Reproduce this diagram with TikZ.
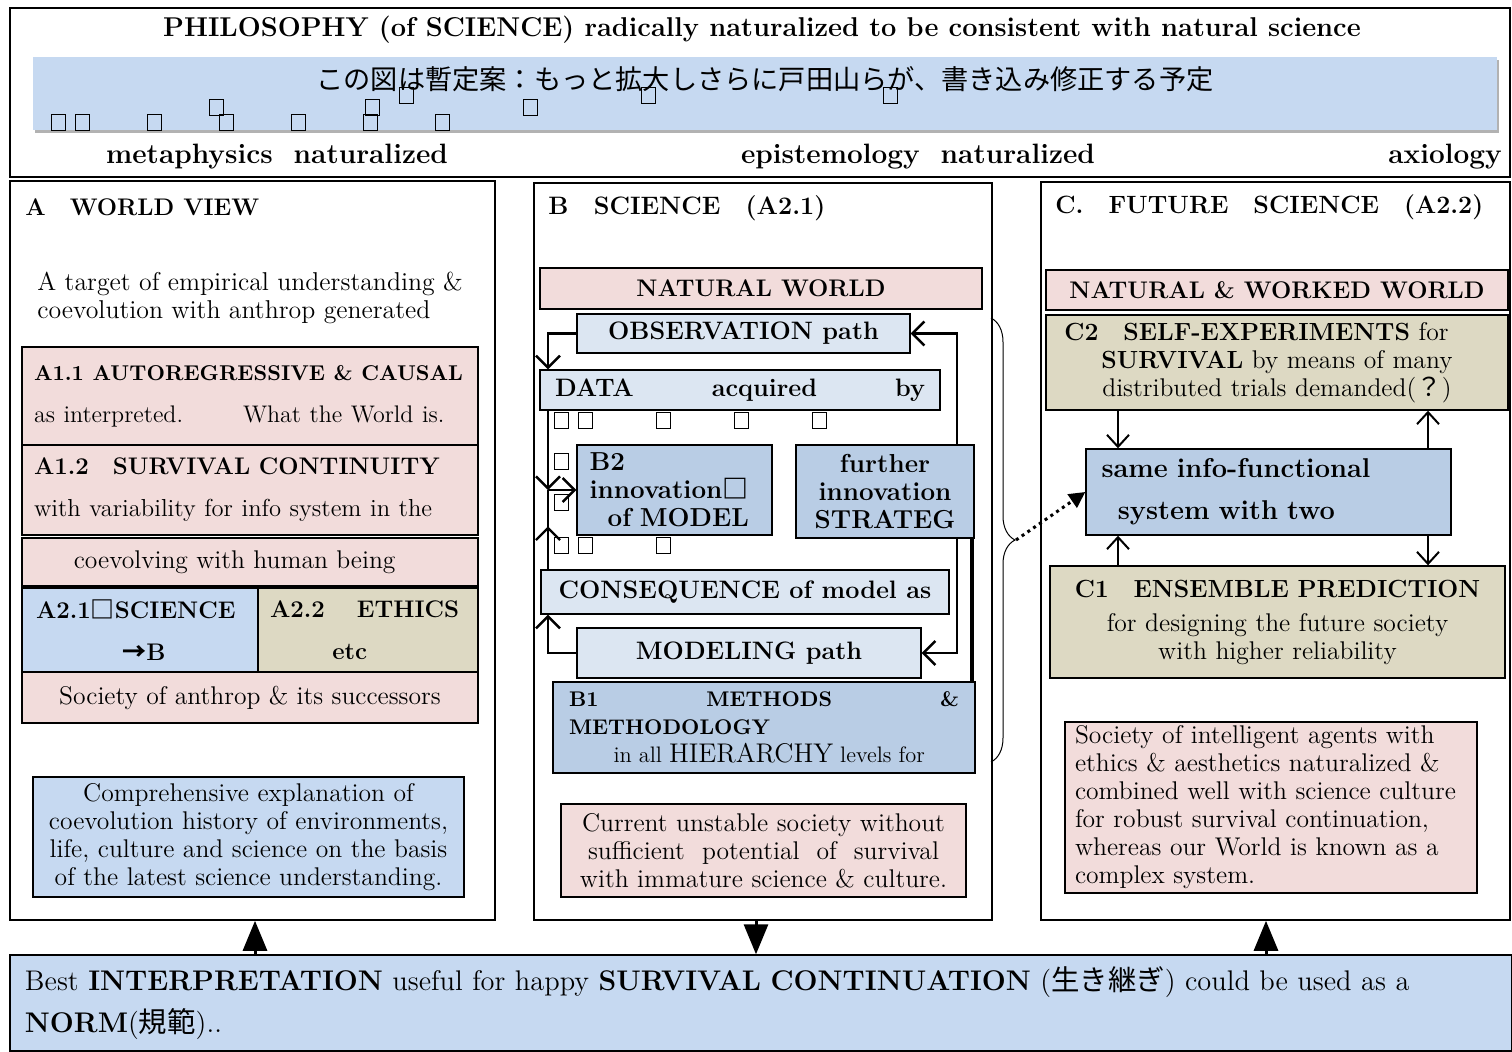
\documentclass[tikz,border=0pt]{standalone}
\usepackage{fontspec}
\newfontfamily\jp{Noto Sans CJK JP}
\usepackage{tikz}
\usetikzlibrary{arrows.meta,calc,shadows,decorations.pathreplacing}
\definecolor{worldpink}{HTML}{F2DCDB}
\definecolor{bandblue}{HTML}{C6D9F1}
\definecolor{pathblue}{HTML}{DCE6F2}
\definecolor{modelblue}{HTML}{B9CDE5}
\definecolor{ethictan}{HTML}{DDD9C3}
\tikzset{
	frame/.style={draw, line width=0.8pt, inner sep=0pt},
	box/.style={draw, line width=0.7pt, inner sep=2pt, font=\fontsize{12.8}{14}\selectfont},
	pinkbox/.style={box, fill=worldpink},
	bluebox/.style={box, fill=bandblue},
	tanbox/.style={box, fill=ethictan},
	worldhead/.style={pinkbox, font=\bfseries\fontsize{12}{14}\selectfont},
	pathbox/.style={box, fill=pathblue, font=\bfseries\fontsize{12.6}{14}\selectfont},
	modelbox/.style={box, fill=modelblue, font=\bfseries\fontsize{13}{14}\selectfont},
	head/.style={font=\bfseries\fontsize{12}{14}\selectfont, inner sep=0pt, anchor=west},
	flow/.style={line width=1.3pt, -{Straight Barb[length=6pt, width=12pt, line width=1.2pt]}},
	cflow/.style={line width=1pt, -{Straight Barb[length=6pt, width=11pt, line width=1pt]}},
	bigarrow/.style={line width=1.5pt, -{Triangle[length=15pt, width=12pt]}},
	glyphbox/.style={draw, line width=0.5pt},
}
\begin{document}
\begin{tikzpicture}[x=0.5pt, y=-0.5pt]
\useasboundingbox (0,0) rectangle (1512,1051);

% philosophy band
\node[frame, minimum width=750pt, minimum height=84.5pt] (phil) at (760,92.5) {};
\node[head, anchor=center, font=\bfseries\fontsize{13.6}{14}\selectfont] (title) at (762,30)
  {PHILOSOPHY (of SCIENCE) radically naturalized to be consistent with natural science};
\node[fill=bandblue, minimum width=732pt, minimum height=36.5pt,
  drop shadow={shadow xshift=1pt, shadow yshift=-1.5pt, fill=black!60}] (band) at (765,93.5) {};
\node[font=\jp\fontsize{13.6}{14}\selectfont, inner sep=0pt] (note) at (765,79)
  {この図は暫定案：もっと拡大しさらに戸田山らが、書き込み修正する予定};
\foreach \x/\y in {58/122, 82/122, 154/122, 216/107, 226/122, 298/122, 372/107, 370/122,
  406/95, 442/122, 530/107, 648/95, 890/95}
  \draw[glyphbox] (\x-7,\y-8) rectangle (\x+7,\y+8);
\node[head, anchor=center, font=\bfseries\fontsize{14}{14}\selectfont] (meta) at (277,157) {metaphysics\ \ naturalized};
\node[head, anchor=center, font=\bfseries\fontsize{14}{14}\selectfont] (epi) at (918,157) {epistemology\ \ naturalized};
\node[head, anchor=center, font=\bfseries\fontsize{14}{14}\selectfont] (axio) at (1445,157) {axiology};

% A world view
\node[frame, minimum width=242.5pt, minimum height=369.5pt] (colA) at (252.5,550.5) {};
\node[head] (titleA) at (25,207) {A\quad WORLD VIEW};
\node[anchor=west, align=left, inner sep=0pt, font=\fontsize{12.9}{14}\selectfont] (target) at (37,298)
  {A target of empirical understanding \&\\coevolution with anthrop generated};
\node[pinkbox, minimum width=228pt, minimum height=49pt, text width=216pt, align=left] (a11) at (250,396)
  {{\bfseries\fontsize{10.7}{14}\selectfont A1.1 AUTOREGRESSIVE \& CAUSAL}\\[7pt]\fontsize{12}{14}\selectfont as interpreted.\hspace{2.5em}What the World is.};
\node[pinkbox, minimum width=228pt, minimum height=45pt, text width=216pt, align=left] (a12) at (250,490)
  {{\bfseries\fontsize{12}{14}\selectfont A1.2\quad SURVIVAL CONTINUITY}\\[7pt]\fontsize{12.3}{14}\selectfont with variability for info system in the};
\node[pinkbox, minimum width=228pt, minimum height=24pt] (coev) at (250,562) {\hspace*{-1.2em}coevolving with human being};
\node[bluebox, minimum width=118pt, minimum height=42pt, text width=104pt, align=left,
  font=\bfseries\fontsize{12}{14}\selectfont] (a21) at (140,630)
  {A2.1{\jp □}SCIENCE\\[7pt]\hspace*{3.6em}{\jp →}B};
\node[tanbox, minimum width=110pt, minimum height=42pt, text width=98pt, align=left,
  font=\bfseries\fontsize{12}{14}\selectfont] (a22) at (368,630)
  {A2.2\quad\ ETHICS\\[7pt]\hspace*{2.6em}etc};
\node[pinkbox, minimum width=228pt, minimum height=25.5pt] (soc) at (250,697.5) {Society of anthrop \& its successors};
\node[bluebox, minimum width=215.5pt, minimum height=60pt, text width=208pt, align=center] (comp) at (248.5,837)
  {Comprehensive explanation of\\coevolution history of environments,\\life, culture and science on the basis\\of the latest science understanding.};

% B science
\node[frame, minimum width=229pt, minimum height=368.5pt] (colB) at (763,551.5) {};
\node[head, font=\bfseries\fontsize{12.6}{14}\selectfont] (titleB) at (548,208) {B\quad SCIENCE\quad (A2.1)};
\node[worldhead, minimum width=221pt, minimum height=20.5pt] (nat) at (761,288.5) {NATURAL WORLD};
\node[pathbox, minimum width=166.5pt, minimum height=19.5pt] (obs) at (743.5,333.5) {OBSERVATION path};
\node[pathbox, minimum width=200pt, minimum height=20pt, text width=185pt, align=left] (data) at (740,390)
  {DATA\hfill acquired\hfill by};
\node[modelbox, minimum width=97.5pt, minimum height=45pt, text width=85pt, align=left] (b2) at (674.5,490)
  {B2\\innovation{\jp □}\\\hspace*{0.7em}of MODEL};
\node[modelbox, minimum width=89pt, minimum height=46.5pt, align=center] (further) at (885,491.5)
  {further\\innovation\\STRATEG};
\node[pathbox, minimum width=204pt, minimum height=22pt] (cons) at (745,592) {CONSEQUENCE of model as};
\node[pathbox, minimum width=172pt, minimum height=25pt] (model) at (749,653) {MODELING path};
\node[modelbox, minimum width=211pt, minimum height=45.5pt, text width=195pt, align=left,
  font=\bfseries\fontsize{10.6}{14}\selectfont] (b1) at (764,727.5)
  {B1\hfill METHODS\hfill\&\\METHODOLOGY\\\hspace*{2.1em}\normalfont\fontsize{11.2}{14}\selectfont in all {\fontsize{13.5}{14}\selectfont HIERARCHY} levels for};
\node[pinkbox, minimum width=202.5pt, minimum height=46.5pt, text width=196pt, align=center] (cur) at (763.5,850.5)
  {Current unstable society without\\sufficient\ \ potential\ \ of\ \ survival\\with immature science \& culture.};
\foreach \x/\y in {561/420, 585/420, 663/420, 741/420, 819/420, 561/461, 561/502, 561/545, 585/545, 663/545}
  \draw[glyphbox] (\x-7,\y-8) rectangle (\x+7,\y+8);

\coordinate (lx) at (548,0);
\coordinate (rx) at (957,0);
\coordinate (tx) at (972,0);
\draw[flow] (obs.west) -| (data.north -| lx);
\draw[flow] (further.north -| rx) |- (obs.east);
\draw[flow] (further.south -| rx) |- (model.east);
\draw[line width=2pt] (further.south -| tx) -- (b1.north -| tx);
\draw[flow] (model.west) -| (cons.south -| lx);
\draw[flow] (data.south -| lx) -- (b2.west -| lx);
\draw[line width=1.3pt] (cons.north -| lx) -- (b2.west -| lx);
\draw[flow] (cons.north -| lx) -- ++(0,-43);
\draw[flow] (b2.west -| lx) -- (b2.west);

\draw[decorate, decoration={brace, amplitude=12pt}, line width=0.5pt] (991,318) -- (991,762);
\coordinate (bracetip) at (1016,540);

% C future science
\node[frame, minimum width=234.5pt, minimum height=369pt] (colC) at (1275.5,551) {};
\node[head, font=\bfseries\fontsize{12.5}{14}\selectfont] (titleC) at (1055,207) {C.\quad FUTURE\quad SCIENCE\quad (A2.2)};
\node[worldhead, minimum width=231pt, minimum height=20pt] (nww) at (1277,290) {NATURAL \& WORKED WORLD};
\node[tanbox, minimum width=231pt, minimum height=47.5pt, text width=220pt, align=center] (c2) at (1277,362.5)
  {\hspace*{-1.6em}{\bfseries\fontsize{12.4}{14}\selectfont C2\quad SELF-EXPERIMENTS} for\\{\bfseries\fontsize{12.4}{14}\selectfont SURVIVAL} by means of many\\distributed trials demanded({\jp ？})};
\node[modelbox, minimum width=182.5pt, minimum height=43pt, text width=167pt, align=left,
  font=\bfseries\fontsize{13.6}{14}\selectfont] (same) at (1268.5,492)
  {same info-functional\\[7pt]\hspace*{0.6em}system with two};
\node[tanbox, minimum width=227.5pt, minimum height=56pt, text width=220pt, align=center] (c1) at (1277.5,622)
  {{\bfseries\fontsize{12.4}{14}\selectfont C1\quad ENSEMBLE PREDICTION}\\[3pt]for designing the future society\\with higher reliability};
\node[pinkbox, minimum width=206pt, minimum height=85.5pt, text width=196pt, align=left] (csoc) at (1271,807.5)
  {Society of intelligent agents with\\ethics \& aesthetics naturalized \&\\combined well with science culture\\for robust survival continuation,\\whereas our World is known as a\\complex system.};

\coordinate (cl) at (1118,0);
\coordinate (cr) at (1428,0);
\draw[cflow] (c2.south -| cl) -- (same.north -| cl);
\draw[cflow] (same.north -| cr) -- (c2.south -| cr);
\draw[cflow] (c1.north -| cl) -- (same.south -| cl);
\draw[cflow] (same.south -| cr) -- (c1.north -| cr);
\draw[dotted, line width=1.5pt, -{Triangle[length=8pt, width=8pt]}] (bracetip) -- (same.west);

% norm
\node[bluebox, minimum width=751pt, minimum height=48pt, text width=736pt, align=left,
  font=\fontsize{14.2}{21}\selectfont] (bot) at (761,1003)
  {Best \textbf{INTERPRETATION} useful for happy \textbf{SURVIVAL CONTINUATION} ({\jp 生き継ぎ}) could be used as a\\\textbf{NORM}({\jp 規範})..};
\coordinate (ax) at (255,0);
\coordinate (bx) at (756,0);
\coordinate (cx) at (1266,0);
\draw[bigarrow] (bot.north -| ax) -- (colA.south -| ax);
\draw[bigarrow] (colB.south -| bx) -- (bot.north -| bx);
\draw[bigarrow] (bot.north -| cx) -- (colC.south -| cx);
\end{tikzpicture}
\end{document}
